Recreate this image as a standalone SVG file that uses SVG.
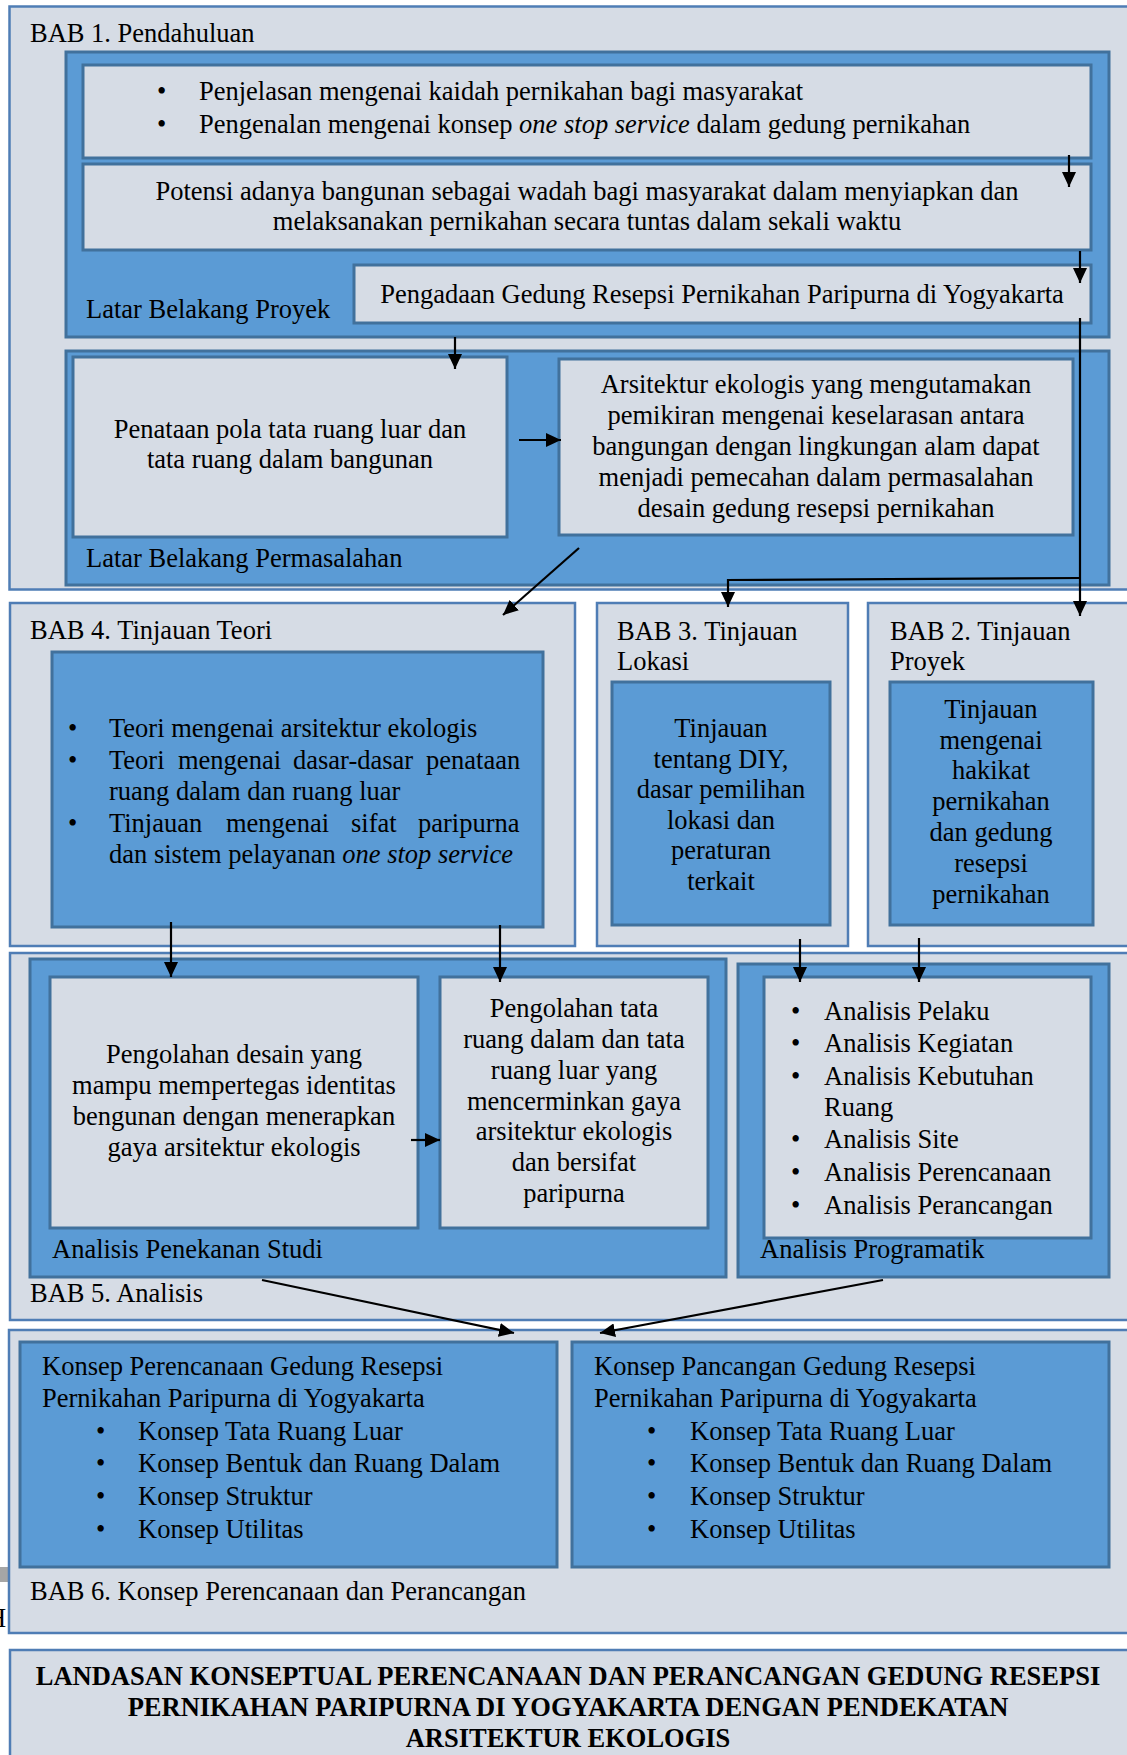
<svg xmlns="http://www.w3.org/2000/svg" width="1127" height="1755" viewBox="0 0 1127 1755">
<defs>
<style>
text{font-family:"Liberation Serif","Times New Roman",serif;font-size:26.5px;fill:#000}
.c{text-anchor:middle}
.b{font-weight:bold}
.i{font-style:italic}
.outer{fill:#D6DCE5;stroke:#4F7DB5;stroke-width:2.5}
.blue{fill:#5B9BD5;stroke:#41719C;stroke-width:3}
.lite{fill:#D6DCE5;stroke:#41719C;stroke-width:3}
.con{fill:none;stroke:#000;stroke-width:2.2}
</style>
<marker id="ah" markerUnits="userSpaceOnUse" markerWidth="16" markerHeight="14" refX="15" refY="7" orient="auto">
<path d="M0,0 L15,7 L0,14 z" fill="#000"/>
</marker>
</defs>
<rect x="0" y="0" width="1127" height="1755" fill="#fff"/>
<rect x="0" y="1567" width="8" height="15" fill="#A6A6A6"/>
<text x="-13" y="1627" fill="#333">H</text>

<g id="bab1">
<rect class="outer" x="9.5" y="6.5" width="1125" height="583"/>
<text x="30" y="42">BAB 1. Pendahuluan</text>
</g>
<g id="latar-proyek">
<rect class="blue" x="66" y="52" width="1043" height="285"/>
<text x="86" y="318">Latar Belakang Proyek</text>
</g>
<g id="box-penjelasan">
<rect class="lite" x="83" y="65" width="1008" height="93"/>
<text x="157" y="100">•</text><text x="199" y="100">Penjelasan mengenai kaidah pernikahan bagi masyarakat</text>
<text x="157" y="133">•</text><text x="199" y="133">Pengenalan mengenai konsep <tspan class="i">one stop service</tspan> dalam gedung pernikahan</text>
</g>
<g id="box-potensi">
<rect class="lite" x="83" y="164" width="1008" height="86"/>
<text class="c" x="587" y="200">Potensi adanya bangunan sebagai wadah bagi masyarakat dalam menyiapkan dan</text>
<text class="c" x="587" y="230">melaksanakan pernikahan secara tuntas dalam sekali waktu</text>
</g>
<g id="box-pengadaan">
<rect class="lite" x="354" y="265" width="737" height="58"/>
<text class="c" x="722" y="303">Pengadaan Gedung Resepsi Pernikahan Paripurna di Yogyakarta</text>
</g>
<g id="latar-permasalahan">
<rect class="blue" x="66" y="351" width="1043" height="234"/>
<text x="86" y="567">Latar Belakang Permasalahan</text>
</g>
<g id="box-penataan">
<rect class="lite" x="73" y="357" width="434" height="180"/>
<text class="c" x="290" y="438">Penataan pola tata ruang luar dan</text>
<text class="c" x="290" y="468">tata ruang dalam bangunan</text>
</g>
<g id="box-arsitektur">
<rect class="lite" x="559" y="359" width="514" height="176"/>
<text class="c" x="816" y="393">Arsitektur ekologis yang mengutamakan</text>
<text class="c" x="816" y="424">pemikiran mengenai keselarasan antara</text>
<text class="c" x="816" y="455">bangungan dengan lingkungan alam dapat</text>
<text class="c" x="816" y="486">menjadi pemecahan dalam permasalahan</text>
<text class="c" x="816" y="517">desain gedung resepsi pernikahan</text>
</g>

<g id="bab4">
<rect class="outer" x="10" y="603" width="565" height="343"/>
<text x="30" y="639">BAB 4. Tinjauan Teori</text>
<rect class="blue" x="52" y="652" width="491" height="275"/>
<text x="68" y="737">•</text><text x="109" y="737">Teori mengenai arsitektur ekologis</text>
<text x="68" y="768.5">•</text><text y="768.5"><tspan x="109">Teori</tspan> <tspan x="178">mengenai</tspan> <tspan x="293">dasar-dasar</tspan> <tspan x="426">penataan</tspan></text>
<text x="109" y="800">ruang dalam dan ruang luar</text>
<text x="68" y="831.5">•</text><text y="831.5"><tspan x="109">Tinjauan</tspan> <tspan x="226">mengenai</tspan> <tspan x="351">sifat</tspan> <tspan x="418">paripurna</tspan></text>
<text x="109" y="863">dan sistem pelayanan <tspan class="i">one stop service</tspan></text>
</g>
<g id="bab3">
<rect class="outer" x="597" y="603" width="251" height="343"/>
<text x="617" y="640">BAB 3. Tinjauan</text>
<text x="617" y="670">Lokasi</text>
<rect class="blue" x="612" y="682" width="218" height="243"/>
<text class="c" x="721" y="737">Tinjauan</text>
<text class="c" x="721" y="768">tentang DIY,</text>
<text class="c" x="721" y="798">dasar pemilihan</text>
<text class="c" x="721" y="829">lokasi dan</text>
<text class="c" x="721" y="859">peraturan</text>
<text class="c" x="721" y="890">terkait</text>
</g>
<g id="bab2">
<rect class="outer" x="868" y="603" width="262" height="343"/>
<text x="890" y="640">BAB 2. Tinjauan</text>
<text x="890" y="670">Proyek</text>
<rect class="blue" x="890" y="682" width="203" height="243"/>
<text class="c" x="991" y="718">Tinjauan</text>
<text class="c" x="991" y="749">mengenai</text>
<text class="c" x="991" y="779">hakikat</text>
<text class="c" x="991" y="810">pernikahan</text>
<text class="c" x="991" y="841">dan gedung</text>
<text class="c" x="991" y="872">resepsi</text>
<text class="c" x="991" y="903">pernikahan</text>
</g>

<g id="bab5">
<rect class="outer" x="10" y="953" width="1120" height="367"/>
<text x="30" y="1302">BAB 5. Analisis</text>
</g>
<g id="analisis-penekanan">
<rect class="blue" x="30" y="959" width="696" height="318"/>
<text x="52" y="1258">Analisis Penekanan Studi</text>
</g>
<g id="box-pengolahan-desain">
<rect class="lite" x="50" y="977" width="368" height="251"/>
<text class="c" x="234" y="1063">Pengolahan desain yang</text>
<text class="c" x="234" y="1094">mampu mempertegas identitas</text>
<text class="c" x="234" y="1125">bengunan dengan menerapkan</text>
<text class="c" x="234" y="1156">gaya arsitektur ekologis</text>
</g>
<g id="box-pengolahan-tata">
<rect class="lite" x="440" y="977" width="268" height="251"/>
<text class="c" x="574" y="1017">Pengolahan tata</text>
<text class="c" x="574" y="1048">ruang dalam dan tata</text>
<text class="c" x="574" y="1079">ruang luar yang</text>
<text class="c" x="574" y="1110">mencerminkan gaya</text>
<text class="c" x="574" y="1140">arsitektur ekologis</text>
<text class="c" x="574" y="1171">dan bersifat</text>
<text class="c" x="574" y="1202">paripurna</text>
</g>
<g id="analisis-programatik">
<rect class="blue" x="738" y="964" width="371" height="313"/>
<rect class="lite" x="764" y="977" width="327" height="261"/>
<text x="791" y="1020">•</text><text x="824" y="1020">Analisis Pelaku</text>
<text x="791" y="1052">•</text><text x="824" y="1052">Analisis Kegiatan</text>
<text x="791" y="1085">•</text><text x="824" y="1085">Analisis Kebutuhan</text>
<text x="824" y="1116">Ruang</text>
<text x="791" y="1148">•</text><text x="824" y="1148">Analisis Site</text>
<text x="791" y="1181">•</text><text x="824" y="1181">Analisis Perencanaan</text>
<text x="791" y="1214">•</text><text x="824" y="1214">Analisis Perancangan</text>
<text x="760" y="1258">Analisis Programatik</text>
</g>

<g id="bab6">
<rect class="outer" x="9" y="1330" width="1121" height="303"/>
<text x="30" y="1600">BAB 6. Konsep Perencanaan dan Perancangan</text>
</g>
<g id="konsep-perencanaan">
<rect class="blue" x="20" y="1342" width="537" height="225"/>
<text x="42" y="1375">Konsep Perencanaan Gedung Resepsi</text>
<text x="42" y="1407">Pernikahan Paripurna di Yogyakarta</text>
<text x="96" y="1440">•</text><text x="138" y="1440">Konsep Tata Ruang Luar</text>
<text x="96" y="1472">•</text><text x="138" y="1472">Konsep Bentuk dan Ruang Dalam</text>
<text x="96" y="1505">•</text><text x="138" y="1505">Konsep Struktur</text>
<text x="96" y="1538">•</text><text x="138" y="1538">Konsep Utilitas</text>
</g>
<g id="konsep-pancangan">
<rect class="blue" x="572" y="1342" width="537" height="225"/>
<text x="594" y="1375">Konsep Pancangan Gedung Resepsi</text>
<text x="594" y="1407">Pernikahan Paripurna di Yogyakarta</text>
<text x="647" y="1440">•</text><text x="690" y="1440">Konsep Tata Ruang Luar</text>
<text x="647" y="1472">•</text><text x="690" y="1472">Konsep Bentuk dan Ruang Dalam</text>
<text x="647" y="1505">•</text><text x="690" y="1505">Konsep Struktur</text>
<text x="647" y="1538">•</text><text x="690" y="1538">Konsep Utilitas</text>
</g>

<g id="landasan">
<rect class="outer" x="10" y="1650" width="1120" height="115"/>
<text class="c b" x="568" y="1685">LANDASAN KONSEPTUAL PERENCANAAN DAN PERANCANGAN GEDUNG RESEPSI</text>
<text class="c b" x="568" y="1716">PERNIKAHAN PARIPURNA DI YOGYAKARTA DENGAN PENDEKATAN</text>
<text class="c b" x="568" y="1747">ARSITEKTUR EKOLOGIS</text>
</g>

<g id="connectors">
<line class="con" x1="1069" y1="155" x2="1069" y2="187" marker-end="url(#ah)"/>
<line class="con" x1="1080" y1="251" x2="1080" y2="283" marker-end="url(#ah)"/>
<line class="con" x1="455" y1="337" x2="455" y2="369" marker-end="url(#ah)"/>
<line class="con" x1="519" y1="440" x2="561" y2="440" marker-end="url(#ah)"/>
<line class="con" x1="579" y1="548" x2="503" y2="615" marker-end="url(#ah)"/>
<polyline class="con" points="1080,318 1080,616" marker-end="url(#ah)"/>
<polyline class="con" points="1080,578 728,580 728,607" marker-end="url(#ah)"/>
<line class="con" x1="171" y1="922" x2="171" y2="977" marker-end="url(#ah)"/>
<line class="con" x1="500" y1="925" x2="500" y2="982" marker-end="url(#ah)"/>
<line class="con" x1="800" y1="939" x2="800" y2="982" marker-end="url(#ah)"/>
<line class="con" x1="919" y1="938" x2="919" y2="982" marker-end="url(#ah)"/>
<line class="con" x1="411" y1="1140" x2="440" y2="1140" marker-end="url(#ah)"/>
<line class="con" x1="262" y1="1280" x2="514" y2="1333" marker-end="url(#ah)"/>
<line class="con" x1="883" y1="1280" x2="600" y2="1333" marker-end="url(#ah)"/>
</g>
</svg>
